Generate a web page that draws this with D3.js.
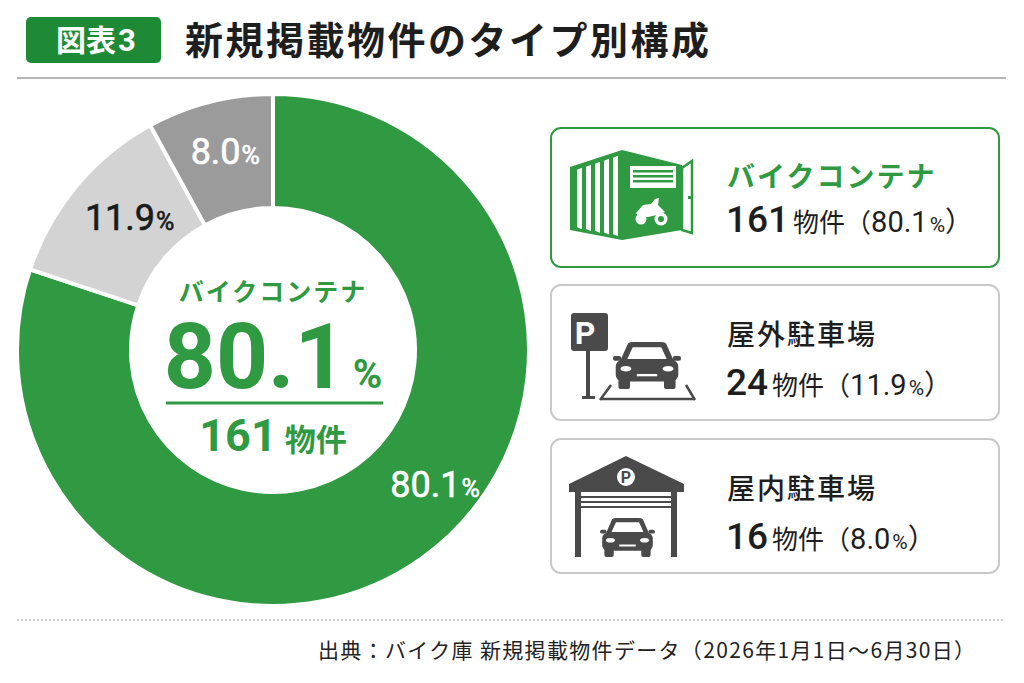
<!DOCTYPE html>
<html>
<head>
<meta charset="utf-8">
<script src="https://cdn.jsdelivr.net/npm/d3@7"></script>
<style>
  body { margin: 0; background: #ffffff; }
  svg text { font-family: "Noto Sans CJK JP", "Noto Sans", sans-serif; }
  svg .num { font-family: Roboto, "Liberation Sans", sans-serif; }
</style>
</head>
<body>
<div id="chart"></div>
<script>
let categories = ["バイクコンテナ", "屋外駐車場", "屋内駐車場"];
let counts = [161, 24, 16];
let shares = [80.1, 11.9, 8.0];
let unit = "物件";

let colorGreen = "#2f9a41";
let colorDark = "#1f8a36";
let colorLight = "#d3d3d3";
let colorMid = "#9b9b9b";
let colorIcon = "#4a4a4a";
let sliceColors = [colorGreen, colorLight, colorMid];
let labelColors = ["#ffffff", "#1a1a1a", "#ffffff"];

let width = 1024,
    height = 683;

let svg = d3.select("#chart")
    .append("svg")
    .attr("width", width)
    .attr("height", height)
    .attr("viewBox", "0 0 " + width + " " + height);

svg.append("rect").attr("width", width).attr("height", height).attr("fill", "#ffffff");

// header
svg.append("rect")
    .attr("x", 26).attr("y", 17).attr("width", 135).attr("height", 46)
    .attr("rx", 5).attr("fill", colorDark);
let badge = svg.append("text")
    .attr("x", 96).attr("y", 51)
    .attr("text-anchor", "middle")
    .style("font-weight", 700)
    .style("fill", "#ffffff");
badge.append("tspan").style("font-size", "30px").text("図表");
badge.append("tspan").attr("class", "num").attr("dx", 2).style("font-size", "31px").text("3");
svg.append("text")
    .attr("x", 185).attr("y", 54)
    .style("font-size", "38px").style("font-weight", 700)
    .style("letter-spacing", "2.5px")
    .style("fill", "#1e1e1e")
    .text("新規掲載物件のタイプ別構成");
svg.append("line")
    .attr("x1", 17).attr("x2", 1006).attr("y1", 78).attr("y2", 78)
    .style("stroke", "#b5b5b5").style("stroke-width", 2);

// donut
let cx = 273, cy = 350;
let rOuter = 256, rInner = 142;

let pie = d3.pie().sort(null).value(function(d) { return d; });
let arcs = pie(counts);
let arc = d3.arc().innerRadius(rInner).outerRadius(rOuter);
let labelArc = d3.arc().innerRadius(200).outerRadius(210);

let g = svg.append("g").attr("transform", "translate(" + cx + "," + cy + ")");

g.selectAll(".slice")
    .data(arcs)
    .enter()
    .append("path")
    .attr("class", "slice")
    .attr("d", arc)
    .style("fill", function(d, i) { return sliceColors[i]; })
    .style("stroke", "#ffffff")
    .style("stroke-width", 4);

// the big slice label sits above its centroid
let labelShift = [[42, -32], [14, -2], [3, 0]];

let sliceLabels = g.selectAll(".slabel")
    .data(arcs)
    .enter()
    .append("text")
    .attr("class", "slabel num")
    .attr("x", function(d, i) { return labelArc.centroid(d)[0] + labelShift[i][0]; })
    .attr("y", function(d, i) { return labelArc.centroid(d)[1] + labelShift[i][1] + 13; })
    .attr("text-anchor", "middle")
    .style("fill", function(d, i) { return labelColors[i]; })
    .style("font-size", "36px")
    .style("font-weight", 400)
    .style("stroke", function(d, i) { return labelColors[i]; })
    .style("stroke-width", 0.6);
sliceLabels.append("tspan").text(function(d, i) { return shares[i].toFixed(1); });
sliceLabels.append("tspan").attr("dx", 1).style("font-size", "25px").text("%");

// centre text
svg.append("text")
    .attr("x", cx).attr("y", 301)
    .attr("text-anchor", "middle")
    .style("font-size", "25px").style("font-weight", 700)
    .style("letter-spacing", "2px")
    .style("fill", colorGreen)
    .text(categories[0]);
let big = svg.append("text")
    .attr("class", "num")
    .attr("x", cx).attr("y", 388)
    .attr("text-anchor", "middle")
    .style("fill", colorGreen).style("font-weight", 700);
big.append("tspan").style("font-size", "91px").text(shares[0].toFixed(1));
big.append("tspan").attr("dx", 6).style("font-size", "40px").text("%");
svg.append("line")
    .attr("x1", 166).attr("x2", 383).attr("y1", 403).attr("y2", 403)
    .style("stroke", colorGreen).style("stroke-width", 3);
let cnt = svg.append("text")
    .attr("x", cx).attr("y", 451)
    .attr("text-anchor", "middle")
    .style("fill", colorGreen).style("font-weight", 700);
cnt.append("tspan").attr("class", "num").style("font-size", "45px").text(counts[0]);
cnt.append("tspan").attr("dx", 8).style("font-size", "31px").text(unit);

// legend boxes
let boxTop = [128, 285, 439];
let boxH = [139, 135, 134];

let boxes = svg.selectAll(".lbox")
    .data(categories)
    .enter()
    .append("g")
    .attr("class", "lbox");

boxes.append("rect")
    .attr("x", 551).attr("y", function(d, i) { return boxTop[i]; })
    .attr("width", 448).attr("height", function(d, i) { return boxH[i]; })
    .attr("rx", 10)
    .style("fill", "#ffffff")
    .style("stroke", function(d, i) { return i === 0 ? colorGreen : "#c9c9c9"; })
    .style("stroke-width", 2);

boxes.append("text")
    .attr("x", 727)
    .attr("y", function(d, i) { return boxTop[i] + (i === 0 ? 59 : 60); })
    .style("font-size", "28px")
    .style("font-weight", function(d, i) { return i === 0 ? 700 : 500; })
    .style("letter-spacing", "2px")
    .style("fill", function(d, i) { return i === 0 ? colorGreen : "#1e1e1e"; })
    .text(function(d) { return d; });

let lcount = boxes.append("text")
    .attr("x", 726)
    .attr("y", function(d, i) { return boxTop[i] + (i === 0 ? 104 : 110); })
    .style("fill", "#1e1e1e");
lcount.append("tspan").attr("class", "num").style("font-size", "37px").style("font-weight", 500)
    .text(function(d, i) { return counts[i]; });
lcount.append("tspan").attr("dx", 4).style("font-size", "26px")
    .text(unit + "（");
lcount.append("tspan").attr("class", "num").style("font-size", "29px")
    .text(function(d, i) { return shares[i].toFixed(1); });
lcount.append("tspan").attr("class", "num").attr("dx", 2).style("font-size", "21px").text("%");
lcount.append("tspan").style("font-size", "28px").text("）");

// icon: bike container
let ic1 = svg.append("g");
ic1.append("path")
    .attr("d", "M570,167 L622,150 L622,240 L570,230 Z")
    .style("fill", colorGreen);
[577, 586, 595, 604, 613].forEach(function(x) {
    ic1.append("path")
        .attr("d", "M" + x + "," + (172 - (x - 570) * 0.33) + " L" + (x + 5) + "," + (170 - (x - 570) * 0.33)
            + " L" + (x + 5) + "," + (227 + (x - 565) * 0.19) + " L" + x + "," + (226 + (x - 570) * 0.19) + " Z")
        .style("fill", "#ffffff");
});
ic1.append("path")
    .attr("d", "M622,150 L682,165 L682,230 L622,240 Z")
    .style("fill", colorGreen);
ic1.append("rect").attr("x", 630).attr("y", 166).attr("width", 46).attr("height", 22)
    .style("fill", "#ffffff");
[170, 175, 180].forEach(function(y) {
    ic1.append("rect").attr("x", 633).attr("y", y).attr("width", 40).attr("height", 2.5)
        .style("fill", colorGreen);
});
ic1.append("path")
    .attr("d", "M682,168 L692,161 L692,233 L682,230 Z")
    .style("fill", "#ffffff").style("stroke", colorGreen).style("stroke-width", 2.5);
ic1.append("rect").attr("x", 688).attr("y", 196).attr("width", 5).attr("height", 3)
    .style("fill", colorGreen);
// motorcycle
ic1.append("circle").attr("cx", 641).attr("cy", 219).attr("r", 5.5).style("fill", "#ffffff");
ic1.append("circle").attr("cx", 661).attr("cy", 219).attr("r", 6.5).style("fill", "#ffffff");
ic1.append("circle").attr("cx", 661).attr("cy", 219).attr("r", 3).style("fill", colorGreen);
ic1.append("path")
    .attr("d", "M636,213 L643,205 L651,204 L655,199 L659,198 L658,205 L665,212 L657,215 L648,217 L639,217 Z")
    .style("fill", "#ffffff");

// car seen from the front
function drawCar(parent, x0, y0, w, h, fg, bg) {
    let c = parent.append("g");
    c.append("path")
        .attr("d", "M" + (x0 + 0.22 * w) + "," + (y0 + 0.03 * h)
            + " Q" + (x0 + 0.24 * w) + "," + y0 + " " + (x0 + 0.3 * w) + "," + y0
            + " L" + (x0 + 0.7 * w) + "," + y0
            + " Q" + (x0 + 0.76 * w) + "," + y0 + " " + (x0 + 0.78 * w) + "," + (y0 + 0.03 * h)
            + " L" + (x0 + 0.9 * w) + "," + (y0 + 0.42 * h)
            + " L" + (x0 + 0.1 * w) + "," + (y0 + 0.42 * h) + " Z")
        .style("fill", fg);
    c.append("path")
        .attr("d", "M" + (x0 + 0.29 * w) + "," + (y0 + 0.11 * h)
            + " L" + (x0 + 0.71 * w) + "," + (y0 + 0.11 * h)
            + " L" + (x0 + 0.79 * w) + "," + (y0 + 0.36 * h)
            + " L" + (x0 + 0.21 * w) + "," + (y0 + 0.36 * h) + " Z")
        .style("fill", bg);
    c.append("rect").attr("x", x0).attr("y", y0 + 0.3 * h).attr("width", 0.12 * w).attr("height", 0.1 * h)
        .attr("rx", 2).style("fill", fg);
    c.append("rect").attr("x", x0 + 0.88 * w).attr("y", y0 + 0.3 * h).attr("width", 0.12 * w).attr("height", 0.1 * h)
        .attr("rx", 2).style("fill", fg);
    c.append("rect").attr("x", x0 + 0.04 * w).attr("y", y0 + 0.38 * h).attr("width", 0.92 * w).attr("height", 0.46 * h)
        .attr("rx", 0.1 * w).style("fill", fg);
    c.append("ellipse").attr("cx", x0 + 0.19 * w).attr("cy", y0 + 0.57 * h).attr("rx", 0.08 * w).attr("ry", 0.06 * h)
        .style("fill", bg);
    c.append("ellipse").attr("cx", x0 + 0.81 * w).attr("cy", y0 + 0.57 * h).attr("rx", 0.08 * w).attr("ry", 0.06 * h)
        .style("fill", bg);
    c.append("rect").attr("x", x0 + 0.35 * w).attr("y", y0 + 0.68 * h).attr("width", 0.3 * w).attr("height", 0.05 * h)
        .style("fill", bg);
    c.append("rect").attr("x", x0 + 0.08 * w).attr("y", y0 + 0.78 * h).attr("width", 0.17 * w).attr("height", 0.22 * h)
        .attr("rx", 2).style("fill", fg);
    c.append("rect").attr("x", x0 + 0.75 * w).attr("y", y0 + 0.78 * h).attr("width", 0.17 * w).attr("height", 0.22 * h)
        .attr("rx", 2).style("fill", fg);
}

// icon: outdoor parking
let ic2 = svg.append("g");
ic2.append("rect").attr("x", 571).attr("y", 313).attr("width", 37).attr("height", 38).attr("rx", 3)
    .style("fill", colorIcon);
ic2.append("text").attr("class", "num").attr("x", 585).attr("y", 344).attr("text-anchor", "middle")
    .style("font-size", "32px").style("font-weight", 700).style("fill", "#ffffff").text("P");
ic2.append("rect").attr("x", 586).attr("y", 350).attr("width", 4).attr("height", 47).style("fill", colorIcon);
ic2.append("rect").attr("x", 582).attr("y", 396).attr("width", 13).attr("height", 3).style("fill", colorIcon);
ic2.append("path")
    .attr("d", "M600,400 L611,385 M600,399 L695,399 M695,400 L686,385")
    .style("stroke", colorIcon).style("stroke-width", 2.5).style("fill", "none");
drawCar(ic2, 613, 342, 68, 47, colorIcon, "#ffffff");

// icon: indoor parking
let ic3 = svg.append("g");
ic3.append("path")
    .attr("d", "M569,484 L626,456 L684,484 L684,492 L569,492 Z")
    .style("fill", colorIcon);
ic3.append("circle").attr("cx", 626).attr("cy", 477).attr("r", 9).style("fill", "#ffffff");
ic3.append("text").attr("class", "num").attr("x", 626).attr("y", 483).attr("text-anchor", "middle")
    .style("font-size", "16px").style("font-weight", 700).style("fill", colorIcon).text("P");
ic3.append("rect").attr("x", 575).attr("y", 491).attr("width", 6).attr("height", 66).style("fill", colorIcon);
ic3.append("rect").attr("x", 671).attr("y", 491).attr("width", 6).attr("height", 66).style("fill", colorIcon);
[496, 501, 506].forEach(function(y) {
    ic3.append("rect").attr("x", 581).attr("y", y).attr("width", 90).attr("height", 2).style("fill", colorIcon);
});
drawCar(ic3, 600, 518, 55, 39, colorIcon, "#ffffff");

// footer
svg.append("line")
    .attr("x1", 17).attr("x2", 1004).attr("y1", 620).attr("y2", 620)
    .style("stroke", "#bdbdbd").style("stroke-width", 1.5)
    .style("stroke-dasharray", "2,2");
svg.append("text")
    .attr("x", 318).attr("y", 658)
    .attr("textLength", 657)
    .attr("lengthAdjust", "spacing")
    .style("font-size", "21px")
    .style("fill", "#222222")
    .text("出典：バイク庫 新規掲載物件データ（2026年1月1日～6月30日）");
</script>
</body>
</html>
